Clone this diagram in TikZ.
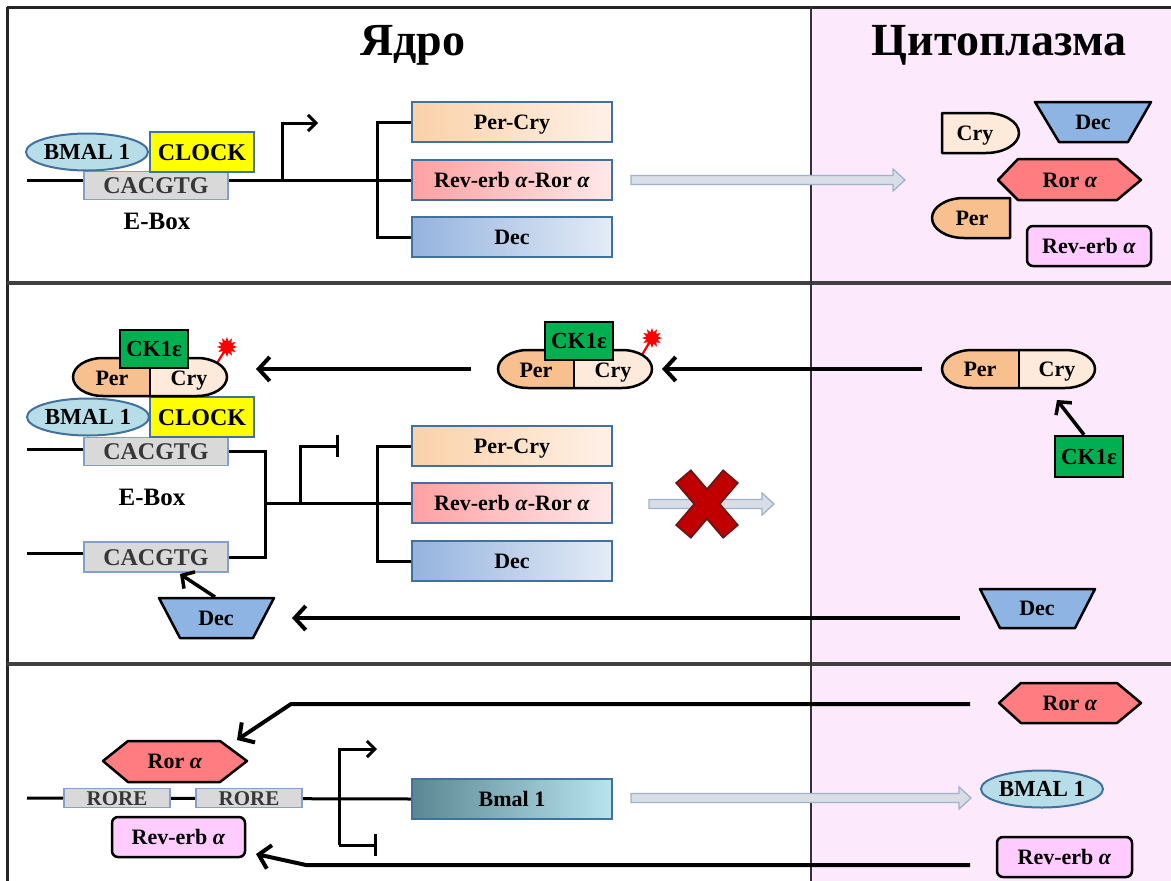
\documentclass[tikz,border=0pt]{standalone}
\usepackage{fontspec}
\setmainfont{Liberation Serif}
\usetikzlibrary{arrows.meta,shapes.geometric}
\definecolor{pinkbg}{RGB}{252,234,252}
\definecolor{boxblue}{RGB}{65,113,156}
\definecolor{bmalcol}{RGB}{183,222,232}
\definecolor{clockcol}{RGB}{255,255,0}
\definecolor{cacgcol}{RGB}{217,217,217}
\definecolor{cacgdraw}{RGB}{132,160,200}
\definecolor{greencol}{RGB}{0,176,80}
\definecolor{percol}{RGB}{248,192,143}
\definecolor{crycol}{RGB}{253,234,218}
\definecolor{deccol}{RGB}{141,180,226}
\definecolor{rorcol}{RGB}{255,124,128}
\definecolor{revcol}{RGB}{255,204,255}
\definecolor{arrfill}{RGB}{217,222,230}
\definecolor{arrdraw}{RGB}{158,178,205}
\definecolor{xred}{RGB}{192,0,0}
\definecolor{xdark}{RGB}{110,20,20}
\definecolor{txtgray}{RGB}{55,55,55}
\definecolor{pcL}{RGB}{250,209,168}
\definecolor{pcR}{RGB}{255,241,232}
\definecolor{rvL}{RGB}{255,160,162}
\definecolor{rvR}{RGB}{255,233,233}
\definecolor{dcL}{RGB}{149,179,222}
\definecolor{dcR}{RGB}{228,236,247}
\definecolor{bmL}{RGB}{90,135,146}
\definecolor{bmR}{RGB}{183,228,238}
\newcommand\blkarr[3]{%
  \filldraw[fill=arrfill, draw=arrdraw, line width=1.3pt]
    (#1,#3-4.5) -- (#2-12,#3-4.5) -- (#2-12,#3-11) -- (#2,#3) -- (#2-12,#3+11)
    -- (#2-12,#3+4.5) -- (#1,#3+4.5) -- cycle;}
\newcommand\pillpath[4]{(#1+30,#2) -- (#3-30,#2)
    arc[start angle=270,end angle=450,x radius=30,y radius=19] -- (#1+30,#4)
    arc[start angle=90,end angle=270,x radius=30,y radius=19] -- cycle}
\newcommand\pillshape[5]{%
  \begin{scope}
    \clip \pillpath{#1}{#2}{#3}{#4};
    \fill[crycol] (#1,#2) rectangle (#3,#4);
    \fill[percol] (#1,#2) rectangle (#5,#4);
  \end{scope}
  \draw[line width=2.5pt] \pillpath{#1}{#2}{#3}{#4};
  \draw[line width=2pt] (#5,#2) -- (#5,#4);}
\begin{document}
\begin{tikzpicture}[x=1pt,y=-1pt,
  lbl/.style={font=\fontsize{22}{26}\selectfont\bfseries, text=black, inner sep=0pt,
     text height=14.5pt, text depth=0pt},
  title/.style={font=\fontsize{46}{52}\selectfont\bfseries, inner sep=0pt},
  gene/.style={lbl, draw=boxblue, line width=2.5pt, minimum width=200pt, minimum height=40pt},
  cacg/.style={font=\fontsize{24}{28}\selectfont\bfseries, text=txtgray, fill=cacgcol, draw=cacgdraw,
     line width=1.5pt, minimum width=144pt, minimum height=28pt, inner sep=0pt,
     text height=16pt, text depth=0pt},
  rore/.style={font=\fontsize{21}{24}\selectfont\bfseries, text=txtgray, fill=cacgcol, draw=cacgdraw,
     line width=1.5pt, minimum width=106pt, minimum height=19pt, inner sep=0pt,
     text height=14pt, text depth=0pt},
  clockbox/.style={font=\fontsize{24}{28}\selectfont\bfseries, fill=clockcol, draw=boxblue,
     line width=2.5pt, minimum width=104pt, minimum height=40pt, inner sep=0pt,
     text height=16pt, text depth=0pt},
  bmal/.style={ellipse, font=\fontsize{23}{27}\selectfont\bfseries, fill=bmalcol, draw=boxblue,
     line width=2pt, minimum width=122pt, minimum height=37pt, inner sep=0pt,
     text height=15pt, text depth=0pt},
  ckbox/.style={font=\fontsize{23}{27}\selectfont\bfseries, fill=greencol, draw=black,
     line width=2.5pt, minimum width=68pt, minimum height=38pt, inner sep=0pt,
     text height=15pt, text depth=0pt},
  revbox/.style={lbl, fill=revcol, draw=black, line width=2.5pt, rounded corners=6pt,
     minimum height=40pt},
  shp/.style={draw=black, line width=2.5pt, line join=round},
  dna/.style={line width=3pt},
  prom/.style={line width=3pt, -{Straight Barb[length=8pt,width=16pt]}},
  tee/.style={line width=3pt, -{Bar[width=22pt]}},
  arr/.style={line width=4pt, -{Straight Barb[length=11pt,width=24pt]}},
  sarr/.style={line width=3.5pt, -{Straight Barb[length=9pt,width=20pt]}},
  starb/.style={star, star points=12, star point ratio=1.7, fill=red, inner sep=0pt, minimum size=20pt}
]
\useasboundingbox (0,0) rectangle (1171,881);
\fill[white] (0,0) rectangle (1171,881);
\fill[pinkbg] (811,7) rectangle (1171,881);
\draw[line width=3pt, black!85] (7,7) -- (1171,7);
\draw[line width=3pt, black!85] (7,7) -- (7,881);
\draw[line width=3.5pt, black!75] (7,283) -- (1171,283);
\draw[line width=3.5pt, black!75] (7,664) -- (1171,664);
\draw[line width=2pt, black!80] (811,7) -- (811,881);

\node[title] (tnuc) at (413,45) {Ядро};
\node[title] (tcyt) at (999,45) {Цитоплазма};

% ---------------- Panel 1 ----------------
\node[gene, left color=pcL, right color=pcR] (pc1) at (512,122) {Per-Cry};
\node[gene, left color=rvL, right color=rvR] (rv1) at (512,180) {Rev-erb \textit{α}-Ror \textit{α}};
\node[gene, left color=dcL, right color=dcR] (dc1) at (512,237) {Dec};
\draw[dna] (27,180) -- (rv1.west);
\coordinate (p1a) at (282,180);
\coordinate (p1b) at (318,123);
\draw[prom] (p1a) |- (p1b);
\draw[dna] (pc1.west) -- (377,122) -- (377,237) -- (dc1.west);
\node[cacg] (cb1) at (156,185.5) {CACGTG};
\node[clockbox] (ck1) at (202,152) {CLOCK};
\node[bmal] (bm1) at (87,152) {BMAL 1};
\node[lbl, font=\fontsize{25}{29}\selectfont\bfseries] (eb1) at (157,222) {E-Box};
\blkarr{631}{905}{180}

\filldraw[shp, fill=crycol] (942,113) -- (986,113) arc[start angle=270,end angle=450,x radius=33,y radius=20] -- (942,153) -- cycle;
\node[lbl] (cry1) at (975,133) {Cry};
\filldraw[shp, fill=deccol] (1035,102) -- (1151,102) -- (1128,142) -- (1059,142) -- cycle;
\node[lbl] (dec1) at (1093,122) {Dec};
\filldraw[shp, fill=rorcol] (998,180) -- (1018,159) -- (1117,159) -- (1141,180) -- (1117,200) -- (1018,200) -- cycle;
\node[lbl] (ror1) at (1070,180) {Ror \textit{α}};
\filldraw[shp, fill=percol] (1010,198) -- (964,198) arc[start angle=270,end angle=90,x radius=32,y radius=20] -- (1010,238) -- cycle;
\node[lbl] (per1) at (972,218) {Per};
\node[revbox, minimum width=124pt] (rev1) at (1089,246) {Rev-erb \textit{α}};

% ---------------- Panel 2 ----------------
\node[gene, left color=pcL, right color=pcR] (pc2) at (512,446) {Per-Cry};
\node[gene, left color=rvL, right color=rvR] (rv2) at (512,503) {Rev-erb \textit{α}-Ror \textit{α}};
\node[gene, left color=dcL, right color=dcR] (dc2) at (512,561) {Dec};
\coordinate (l2a) at (27,449);
\coordinate (l2b) at (27,553);
\coordinate (j2) at (265,503);
\coordinate (p2a) at (300,503);
\coordinate (p2b) at (339,446);
\draw[dna] (l2a) -- (84,449);
\draw[dna] (l2b) -- (84,553);
\node[cacg] (cb2t) at (156,451.5) {CACGTG};
\node[cacg, minimum height=30pt] (cb2b) at (156,557) {CACGTG};
\draw[dna] (cb2t.east) -| (j2) |- (cb2b.east);
\draw[dna] (j2) -- (rv2.west);
\draw[tee] (p2a) |- (p2b);
\draw[dna] (pc2.west) -- (377,446) -- (377,561) -- (dc2.west);
\node[clockbox] (ck2) at (202,417) {CLOCK};
\node[bmal] (bm2) at (88,417) {BMAL 1};
\node[lbl, font=\fontsize{25}{29}\selectfont\bfseries] (eb2) at (152,498) {E-Box};

% left complex
\node[starb] (st2l) at (227,347) {};
\draw[red, line width=2.2pt] (214,368) -- (st2l.center);
\pillshape{73}{358}{227}{396}{150}
\node[lbl] (per2l) at (112,378) {Per};
\node[lbl] (cry2l) at (189,378) {Cry};
\node[ckbox] (cke2l) at (154,349) {CK1ε};

% middle complex
\node[starb] (st2m) at (652,338) {};
\draw[red, line width=2.2pt] (639,360) -- (st2m.center);
\pillshape{498}{350}{652}{388}{574}
\node[lbl] (per2m) at (536,370) {Per};
\node[lbl] (cry2m) at (613,370) {Cry};
\node[ckbox] (cke2m) at (579,341) {CK1ε};

% right complex
\pillshape{942}{350}{1095}{388}{1019}
\node[lbl] (per2r) at (980,369) {Per};
\node[lbl] (cry2r) at (1057,369) {Cry};
\node[ckbox, minimum height=41pt] (cke2r) at (1089,456.5) {CK1ε};
\coordinate (ckt) at (1057,400);
\draw[sarr] (cke2r.north) ++(-5,0) -- (ckt);

\coordinate (a1s) at (922,369);
\coordinate (a1e) at (662,369);
\coordinate (a2s) at (471,369);
\coordinate (a2e) at (256,369);
\draw[arr] (a1s) -- (a1e);
\draw[arr] (a2s) -- (a2e);

\blkarr{649}{774}{504}
\draw[xdark, line width=21pt] (683,476) -- (731,532);
\draw[xdark, line width=21pt] (731,476) -- (683,532);
\draw[xred, line width=17pt] (684,477.5) -- (730,530.5);
\draw[xred, line width=17pt] (730,477.5) -- (684,530.5);

\filldraw[shp, fill=deccol] (980,589) -- (1095,589) -- (1075,628) -- (1000,628) -- cycle;
\node[lbl] (dec2r) at (1037,608) {Dec};
\filldraw[shp, fill=deccol] (159,598) -- (274,598) -- (253,638) -- (180,638) -- cycle;
\node[lbl] (dec2l) at (216,618) {Dec};
\coordinate (a3s) at (960,618);
\coordinate (a3e) at (292,618);
\draw[arr] (a3s) -- (a3e);
\coordinate (a4s) at (215,597);
\coordinate (a4e) at (180,574);
\draw[sarr] (a4s) -- (a4e);

% ---------------- Panel 3 ----------------
\node[gene, left color=bmL, right color=bmR] (bm3) at (512,799) {Bmal 1};
\draw[dna] (27,798) -- (bm3.west);
\node[rore] (re1) at (117,798) {RORE};
\node[rore] (re2) at (249,798) {RORE};
\coordinate (p3a) at (339,845);
\coordinate (p3m) at (339,749);
\coordinate (p3b) at (377,749);
\coordinate (p3c) at (377,845);
\draw[prom] (p3a) -- (p3m) -- (p3b);
\draw[tee] (p3a) -- (p3c);
\filldraw[shp, fill=rorcol] (103,761) -- (128,741) -- (220,741) -- (247,761) -- (220,782) -- (128,782) -- cycle;
\node[lbl] (ror3l) at (175,761) {Ror \textit{α}};
\node[revbox, minimum width=133pt] (rev3l) at (178.5,837) {Rev-erb \textit{α}};
\blkarr{631}{971}{798}

\filldraw[shp, fill=rorcol] (999,703) -- (1021,683) -- (1117,683) -- (1141,703) -- (1117,723) -- (1021,723) -- cycle;
\node[lbl] (ror3r) at (1070,703) {Ror \textit{α}};
\node[bmal] (bm3r) at (1042,789) {BMAL 1};
\node[revbox, minimum width=135pt] (rev3r) at (1064.5,857) {Rev-erb \textit{α}};

\coordinate (a5s) at (970,704);
\coordinate (a5m) at (291,704);
\coordinate (a5e) at (237,740);
\draw[arr] (a5s) -- (a5m) -- (a5e);
\coordinate (a6s) at (970,865);
\coordinate (a6m) at (306,865);
\coordinate (a6e) at (256,854);
\draw[arr] (a6s) -- (a6m) -- (a6e);
\end{tikzpicture}
\end{document}
